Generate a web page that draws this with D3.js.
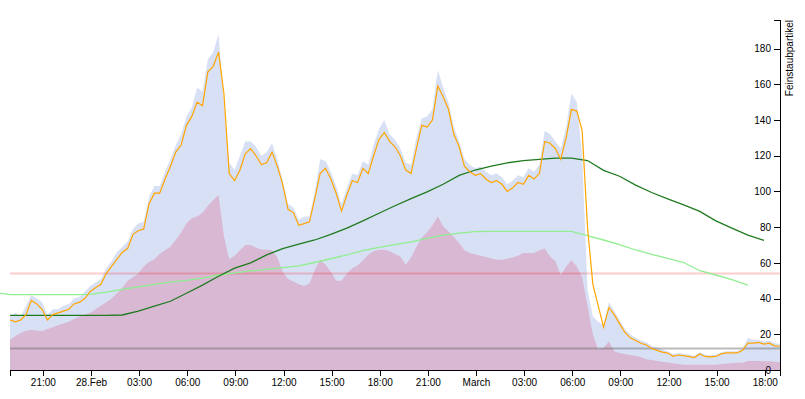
<!DOCTYPE html>
<html>
<head>
<meta charset="utf-8">
<script src="https://cdn.jsdelivr.net/npm/d3@7"></script>
<style>
  body { margin: 0; background: #fff; }
  svg { display: block; }
  .axis text { font-family: "Liberation Sans", Arial, sans-serif; font-size: 10px; fill: #000; }
  .axis path, .axis line { stroke: #000; shape-rendering: crispEdges; }
</style>
</head>
<body>
<svg id="chart" width="805" height="399"></svg>
<script>
// ---- data (20-minute samples starting 27 Feb 18:57) ----
const sampleStart = "2015-02-27T18:57:00";
const sampleStepMinutes = 20;

// PM10 smoothed (orange line)
const pm10avg = [
  28,27,28,31,39,37,34,28,31,32,
  33,34,37,38,40,44,46,48,54,58,
  62,66,68,76,78,79,93,99,99,107,
  114,122,126,137,142,150,148,167,170,178,
  155,110,106,112,121,124,120,115,116,122,
  114,104,90,88,81,82,83,96,110,113,
  107,99,89,98,106,105,113,110,120,129,
  133,128,125,120,112,110,124,137,136,140,
  159,153,146,132,125,114,111,109,110,107,
  105,106,104,100,102,105,104,109,107,110,
  128,127,124,118,130,146,145,134,80,48,
  36,24,35,31,26,21,18,16.5,15,14,
  12,11,10,9.5,7.7,8.4,8,7.5,7,9,
  7.6,7.3,7.6,9,9.6,9.6,9.6,11,15,15,
  15.5,14.5,15,13.5,13.3
];

// PM10 raw (light blue area)
const pm10 = [
  30,32,30,36,42,40,38,31,34,34,
  36,37,40,41,44,47,49,51,57,61,
  66,69,72,79,82,83,97,103,103,111,
  118,126,132,142,147,158,156,174,178,188,
  150,116,112,120,128,128,125,120,122,127,
  118,106,93,91,84,86,86,100,118,117,
  111,103,93,102,110,109,117,115,126,135,
  140,132,129,124,116,115,130,141,142,146,
  168,158,150,136,128,118,115,113,114,111,
  109,110,108,104,106,109,108,113,111,115,
  134,132,128,124,136,155,150,120,45,30,
  27,25,38,33,28,23,20,18,16.5,15.5,
  13.5,12.5,11.5,10.5,9,9.5,9,8.5,8,10,
  8.5,8.2,8.5,10,10.5,10.5,10.5,12,18,17,
  17,16,16.5,15,14.5
];

// PM2.5 (pink area)
const pm25 = [
  17,19,20.7,22,22.5,22,21.8,23,24,25,
  26,27,28.5,30,31,32,34,36,38,40,
  43,46,50,52,54,58,60.5,62,65,67,
  69,73,77,82,85,86,88,92,95,98,
  75,62,64,67,70,70,68.5,67.5,67.4,67,
  63,55,51,49.5,48,47,48.5,56,61.8,59,
  55,50,50,54,57,58.5,61.5,64.5,66.5,67.4,
  67.4,66.5,65,63.5,59,63,69,74,77,81,
  86,80.5,77.5,74.5,71,67,65.5,64.8,64,63.3,
  62.5,61.8,61.8,62.3,63,64,65.5,65.5,65.5,67,
  68,63.5,61,53,58,61.5,58,52,36,20,
  11.5,12.5,16,10.5,9.5,9,8.4,8,7.3,6,
  5.6,5,4.6,4.2,3.8,3.3,3,3,3,3,
  3,3,3,3.3,3.6,3.8,4,4,5,5,
  5,4.9,4.9,4.6,4.4
];

// hourly moving averages (hourly from 27 Feb 18:57)
const avgDark = [
  30.6,30.6,30.6,30.6,30.6,30.6,30.6,30.8,33,35.8,
  38.5,43,47.5,52.5,57,60,64.5,68,70.5,72.8,
  76,79.5,83.5,87.8,92,96,99.8,104,109,112,
  114.2,116,117.2,118,118.6,118.6,117.3,111.8,108.5,103.5,
  99.4,95.8,92.5,88.8,83.5,79.5,75.5,72.6
];
const avgLightLeadTime = "2015-02-27T18:20:00";
const avgLightLeadValue = 43.1;
const avgLight = [
  42.2,42.2,42.2,42.2,42.2,42.4,43.6,45.2,46.5,48,
  49.2,50.2,51.5,53.2,54.4,55.5,56.4,57.3,58.3,60.2,
  62.3,64.5,66.8,68.7,70.2,71.8,73.7,75.5,76.6,77.5,
  77.6,77.6,77.6,77.6,77.6,77.6,75.2,72.8,70.2,67.2,
  64.8,62.5,60.2,55.6,53.2,50.6,47.5
];

// limit lines
const limitPM10 = 54;
const limitPM25 = 12;

const xDomain = ["2015-02-27T18:57:00", "2015-03-01T18:57:00"];
const yMax = 196;
const yTicks = [0,20,40,60,80,100,120,140,160,180];
const yLabel = "Feinstaubpartikel";

// ---- drawing ----
const svg = d3.select("#chart");
const mLeft = 10, mRight = 780, mTop = 20, mBottom = 370;

const t0 = new Date(sampleStart);
const sampleTimes = pm10.map((_, i) => d3.timeMinute.offset(t0, i * sampleStepMinutes));
const darkTimes = avgDark.map((_, i) => d3.timeHour.offset(t0, i));
const lightTimes = [new Date(avgLightLeadTime)].concat(avgLight.map((_, i) => d3.timeHour.offset(t0, i)));
const lightVals = [avgLightLeadValue].concat(avgLight);

const x = d3.scaleTime().domain(xDomain.map(d => new Date(d))).range([mLeft, mRight]);
const y = d3.scaleLinear().domain([0, yMax]).range([mBottom, mTop]);

const area = vals => d3.area()
  .defined((d, i) => i < sampleTimes.length)
  .x((d, i) => x(sampleTimes[i]))
  .y0(y(0))
  .y1(d => y(d))(vals);

svg.append("path").attr("d", area(pm10)).attr("fill", "#d8e0f6");
svg.append("path").attr("d", area(pm25)).attr("fill", "#d9b8d3");

svg.append("line")
  .attr("x1", x.range()[0]).attr("x2", x.range()[1])
  .attr("y1", y(limitPM10)).attr("y2", y(limitPM10))
  .attr("stroke", "red").attr("stroke-opacity", 0.2).attr("stroke-width", 2);
svg.append("line")
  .attr("x1", x.range()[0]).attr("x2", x.range()[1])
  .attr("y1", y(limitPM25)).attr("y2", y(limitPM25))
  .attr("stroke", "#666").attr("stroke-opacity", 0.45).attr("stroke-width", 2);

svg.append("path")
  .attr("d", d3.line().x((d, i) => x(lightTimes[i])).y(d => y(d))(lightVals))
  .attr("fill", "none").attr("stroke", "#90ee90").attr("stroke-width", 1.3);
svg.append("path")
  .attr("d", d3.line().x((d, i) => x(darkTimes[i])).y(d => y(d))(avgDark))
  .attr("fill", "none").attr("stroke", "#1f7a1f").attr("stroke-width", 1.3);
svg.append("path")
  .attr("d", d3.line().x((d, i) => x(sampleTimes[i])).y(d => y(d))(pm10avg))
  .attr("fill", "none").attr("stroke", "orange").attr("stroke-width", 1.2);

const fmt = d => {
  if (d.getHours() === 0 && d.getMinutes() === 0) {
    if (d.getDate() === 1) return d3.timeFormat("%B")(d);
    return d3.timeFormat("%d.%b")(d);
  }
  return d3.timeFormat("%H:%M")(d);
};

svg.append("g").attr("class", "axis")
  .attr("transform", `translate(0,${mBottom})`)
  .call(d3.axisBottom(x).ticks(d3.timeHour.every(3)).tickFormat(fmt));

const yAxis = svg.append("g").attr("class", "axis")
  .attr("transform", `translate(${mRight},0)`)
  .call(d3.axisLeft(y).tickValues(yTicks));

yAxis.append("text")
  .attr("transform", `translate(0,${mTop}) rotate(-90)`)
  .attr("y", 6).attr("dy", ".71em")
  .style("text-anchor", "end")
  .text(yLabel);
</script>
</body>
</html>
